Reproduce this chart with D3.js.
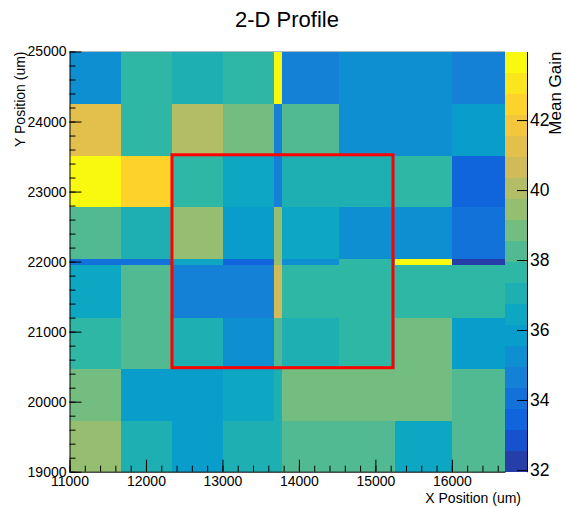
<!DOCTYPE html>
<html>
<head>
<meta charset="utf-8">
<script src="https://cdn.jsdelivr.net/npm/d3@7"></script>
<style>
  body { margin: 0; background: #fff; }
  text { font-family: "Liberation Sans", Arial, Helvetica, sans-serif; fill: #000; }
</style>
</head>
<body>
<svg id="chart" width="566" height="508"></svg>
<script>
// Bin edges of the profile (um), variable width
const xEdges = [11000, 11670, 12335, 13010, 13677, 13780, 14520, 15255, 16000, 16695];
const yEdges = [25000, 24255, 23510, 22775, 22040, 21945, 21200, 20470, 19730, 19000];

// Mean gain per bin, rows from top (high Y) to bottom, columns left to right
const gainRow0 = [35.3, 37.6, 37.0, 37.7, 43.96, 34.6, 35.2, 35.3, 34.7];
const gainRow1 = [41.2, 37.6, 40.1, 38.9, 34.7, 38.3, 35.2, 35.1, 35.8];
const gainRow2 = [43.8, 42.5, 37.7, 36.4, 34.6, 37.1, 37.0, 37.6, 33.4];
const gainRow3 = [38.2, 37.0, 39.4, 35.9, 39.5, 36.5, 35.3, 35.2, 34.1];
const gainRow4 = [34.0, 34.1, 36.4, 33.5, 39.3, 35.2, 37.6, 43.7, 31.95];
const gainRow5 = [36.4, 38.2, 34.7, 34.6, 40.6, 37.7, 37.6, 37.7, 37.6];
const gainRow6 = [37.7, 38.3, 37.1, 35.2, 38.2, 37.0, 37.6, 38.8, 35.9];
const gainRow7 = [38.9, 35.8, 35.9, 36.5, 37.1, 38.8, 38.9, 38.8, 38.2];
const gainRow8 = [39.5, 37.0, 35.9, 37.1, 37.0, 38.3, 38.2, 36.4, 38.3];
const gainRows = [gainRow0, gainRow1, gainRow2, gainRow3, gainRow4, gainRow5, gainRow6, gainRow7, gainRow8];

// Selected region outline (um)
const regionX = [12340, 15230];
const regionY = [20485, 23525];

// Axis ticks
const xTicks = [11000, 12000, 13000, 14000, 15000, 16000];
const yTicks = [19000, 20000, 21000, 22000, 23000, 24000, 25000];
const zTicks = [32, 34, 36, 38, 40, 42];
const nContours = 20;

const titleText = "2-D Profile";
const xTitle = "X Position (um)";
const yTitle = "Y Position (um)";
const zTitle = "Mean Gain";

// Frame geometry
const frame = { left: 69.5, right: 505, top: 51.5, bottom: 471.7 };
const pal = { left: 505, right: 527 };

const svg = d3.select("#chart");

const x = d3.scaleLinear().domain([xEdges[0], xEdges[xEdges.length - 1]]).range([frame.left, frame.right]);
const y = d3.scaleLinear().domain([yEdges[yEdges.length - 1], yEdges[0]]).range([frame.bottom, frame.top]);

const allGain = gainRows.flat();
const [zMin, zMax] = d3.extent(allGain);
const z = d3.scaleLinear().domain([zMin, zMax]).range([frame.bottom, frame.top]);

// Bird palette: 255-colour gradient table, then one colour per contour band
const stops = [0.0000, 0.1250, 0.2500, 0.3750, 0.5000, 0.6250, 0.7500, 0.8750, 1.0000];
const red   = [0.2082, 0.0592, 0.0780, 0.0232, 0.1802, 0.5301, 0.8186, 0.9956, 0.9764];
const green = [0.1664, 0.3599, 0.5041, 0.6419, 0.7178, 0.7492, 0.7328, 0.7862, 0.9832];
const blue  = [0.5293, 0.8684, 0.8385, 0.7914, 0.6425, 0.4662, 0.3499, 0.1968, 0.0539];
const nColors = 255;
const table = [];
for (let g = 1; g < stops.length; g++) {
  const n = Math.floor(stops[g] * nColors) - Math.floor(stops[g - 1] * nColors);
  for (let c = 0; c < n; c++) {
    const f = c / n;
    table.push(d3.rgb(
      255 * (red[g - 1] + (red[g] - red[g - 1]) * f),
      255 * (green[g - 1] + (green[g] - green[g - 1]) * f),
      255 * (blue[g - 1] + (blue[g] - blue[g - 1]) * f)
    ).formatHex());
  }
}
const bandColor = i => table[Math.min(table.length - 1, Math.floor((i + 0.99) * nColors / nContours))];
const bandOf = v => Math.max(0, Math.min(nContours - 1, Math.floor((v - zMin) / (zMax - zMin) * nContours)));

// Cells
const cells = [];
gainRows.forEach((row, r) => row.forEach((v, c) => {
  cells.push({ x0: xEdges[c], x1: xEdges[c + 1], yTop: yEdges[r], yBot: yEdges[r + 1], v });
}));

svg.append("g")
  .attr("shape-rendering", "crispEdges")
  .selectAll("rect").data(cells).join("rect")
  .attr("x", d => x(d.x0))
  .attr("y", d => y(d.yTop))
  .attr("width", d => x(d.x1) - x(d.x0))
  .attr("height", d => y(d.yBot) - y(d.yTop))
  .attr("fill", d => bandColor(bandOf(d.v)));

// Palette bands
const bands = d3.range(nContours).map(i => ({
  i,
  lo: zMin + (zMax - zMin) * i / nContours,
  hi: zMin + (zMax - zMin) * (i + 1) / nContours
}));
svg.append("g")
  .attr("shape-rendering", "crispEdges")
  .selectAll("rect").data(bands).join("rect")
  .attr("x", pal.left)
  .attr("y", d => z(d.hi))
  .attr("width", pal.right - pal.left)
  .attr("height", d => z(d.lo) - z(d.hi))
  .attr("fill", d => bandColor(d.i));

// Selected region
svg.append("rect")
  .attr("x", x(regionX[0]))
  .attr("y", y(regionY[1]))
  .attr("width", x(regionX[1]) - x(regionX[0]))
  .attr("height", y(regionY[0]) - y(regionY[1]))
  .attr("fill", "none")
  .attr("stroke", "#ff0000")
  .attr("stroke-width", 3);

// Top frame edge
svg.append("line")
  .attr("x1", frame.left).attr("x2", frame.right)
  .attr("y1", frame.top).attr("y2", frame.top)
  .attr("stroke", "#b0bcc4").attr("stroke-width", 1);

// X axis (ticks point into the frame)
const xMinor = d3.range(11000, xEdges[xEdges.length - 1], 200);
svg.append("g")
  .attr("transform", `translate(0,${frame.bottom})`)
  .call(d3.axisBottom(x).tickValues(xMinor).tickSize(-6).tickSizeOuter(0).tickFormat(""))
  .call(g => g.select(".domain").remove());
const gx = svg.append("g")
  .attr("transform", `translate(0,${frame.bottom})`)
  .call(d3.axisBottom(x).tickValues(xTicks).tickSize(-12).tickSizeOuter(0).tickPadding(4).tickFormat(d3.format("d")));
gx.selectAll("text").attr("font-size", 14);

// Y axis
const yMinor = d3.range(19000, 25001, 200);
svg.append("g")
  .attr("transform", `translate(${frame.left},0)`)
  .call(d3.axisLeft(y).tickValues(yMinor).tickSize(-6).tickSizeOuter(0).tickFormat(""))
  .call(g => g.select(".domain").remove());
const gy = svg.append("g")
  .attr("transform", `translate(${frame.left},0)`)
  .call(d3.axisLeft(y).tickValues(yTicks).tickSize(-12).tickSizeOuter(0).tickPadding(3).tickFormat(d3.format("d")));
gy.selectAll("text").attr("font-size", 14);

// Palette axis
const gz = svg.append("g")
  .attr("transform", `translate(${pal.right},0)`)
  .call(d3.axisRight(z).tickValues(zTicks).tickSize(-10).tickSizeOuter(0).tickPadding(3).tickFormat(d3.format("d")));
gz.selectAll("text").attr("font-size", 17.5);

svg.selectAll(".domain").attr("stroke", "#000");
svg.selectAll(".tick line").attr("stroke", "#000");

// Titles
svg.append("text")
  .attr("x", 287).attr("y", 27)
  .attr("text-anchor", "middle")
  .attr("font-size", 22)
  .text(titleText);

svg.append("text")
  .attr("x", 521).attr("y", 503)
  .attr("text-anchor", "end")
  .attr("font-size", 14)
  .text(xTitle);

svg.append("text")
  .attr("transform", `translate(25,${frame.top}) rotate(-90)`)
  .attr("text-anchor", "end")
  .attr("font-size", 14)
  .text(yTitle);

svg.append("text")
  .attr("transform", `translate(561,${frame.top}) rotate(-90)`)
  .attr("text-anchor", "end")
  .attr("font-size", 17)
  .text(zTitle);
</script>
</body>
</html>
